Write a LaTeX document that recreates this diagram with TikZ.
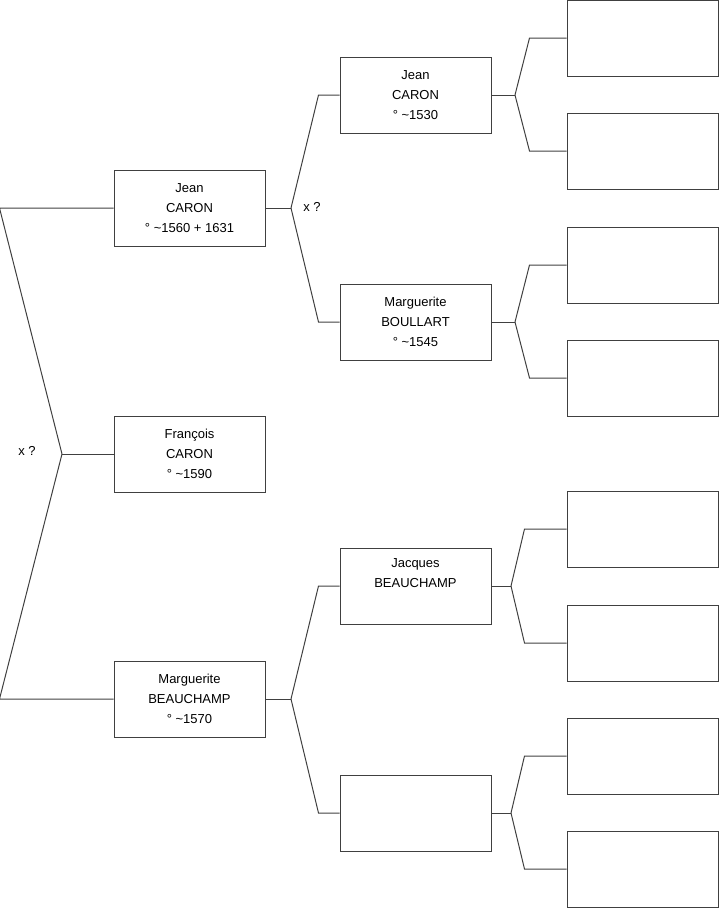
\documentclass[tikz,border=0pt]{standalone}
\usepackage{fontspec}
\setmainfont{Liberation Sans}
\begin{document}
\begin{tikzpicture}[x=0.75pt, y=-0.75pt, line width=0.75pt, draw=black!75,
  person/.style={draw=black!75, minimum width=113.25pt, minimum height=57pt,
    inner sep=0pt, align=center, font=\fontsize{9.75}{15}\selectfont},
  union/.style={font=\fontsize{9.75}{15}\selectfont}]
\useasboundingbox (0,0) rectangle (719,908);
% generation 1
\node[person] (root) at (189.5,454) {François\\CARON\\° \textasciitilde1590};
% generation 2
\node[person] (f) at (189.5,208) {Jean\\CARON\\° \textasciitilde1560 + 1631};
\node[person] (m) at (189.5,699) {Marguerite\\BEAUCHAMP\\° \textasciitilde1570};
% generation 3
\node[person] (ff) at (415.5,95)  {Jean\\CARON\\° \textasciitilde1530};
\node[person] (fm) at (415.5,322) {Marguerite\\BOULLART\\° \textasciitilde1545};
\node[person] (mf) at (415.5,586) {Jacques\\BEAUCHAMP\\\strut};
\node[person] (mm) at (415.5,813) {};
% generation 4
\node[person] (ffa) at (642.5,38)  {};
\node[person] (ffb) at (642.5,151) {};
\node[person] (fma) at (642.5,265) {};
\node[person] (fmb) at (642.5,378) {};
\node[person] (mfa) at (642.5,529) {};
\node[person] (mfb) at (642.5,643) {};
\node[person] (mma) at (642.5,756) {};
\node[person] (mmb) at (642.5,869) {};
% junctions
\coordinate (j0) at (62,454);
\coordinate (j1) at (291,208);
\coordinate (j2) at (291,699);
\coordinate (j3) at (515,95);
\coordinate (j4) at (515,322);
\coordinate (j5) at (511,586);
\coordinate (j6) at (511,813);
% links
\draw (root.west) -- (j0);
\draw (f.west) -- ++(-114,0) -- (j0);
\draw (m.west) -- ++(-114,0) -- (j0);
\draw (f.east) -- (j1);
\draw (ff.west) -- ++(-21,0) -- (j1);
\draw (fm.west) -- ++(-21,0) -- (j1);
\draw (m.east) -- (j2);
\draw (mf.west) -- ++(-21,0) -- (j2);
\draw (mm.west) -- ++(-21,0) -- (j2);
\draw (ff.east) -- (j3);
\draw (ffa.west) -- ++(-37,0) -- (j3);
\draw (ffb.west) -- ++(-37,0) -- (j3);
\draw (fm.east) -- (j4);
\draw (fma.west) -- ++(-37,0) -- (j4);
\draw (fmb.west) -- ++(-37,0) -- (j4);
\draw (mf.east) -- (j5);
\draw (mfa.west) -- ++(-42,0) -- (j5);
\draw (mfb.west) -- ++(-42,0) -- (j5);
\draw (mm.east) -- (j6);
\draw (mma.west) -- ++(-42,0) -- (j6);
\draw (mmb.west) -- ++(-42,0) -- (j6);
% marriages
\node[union] (x0) at (27,451) {x ?};
\node[union] (x1) at (312,207) {x ?};
\end{tikzpicture}
\end{document}
